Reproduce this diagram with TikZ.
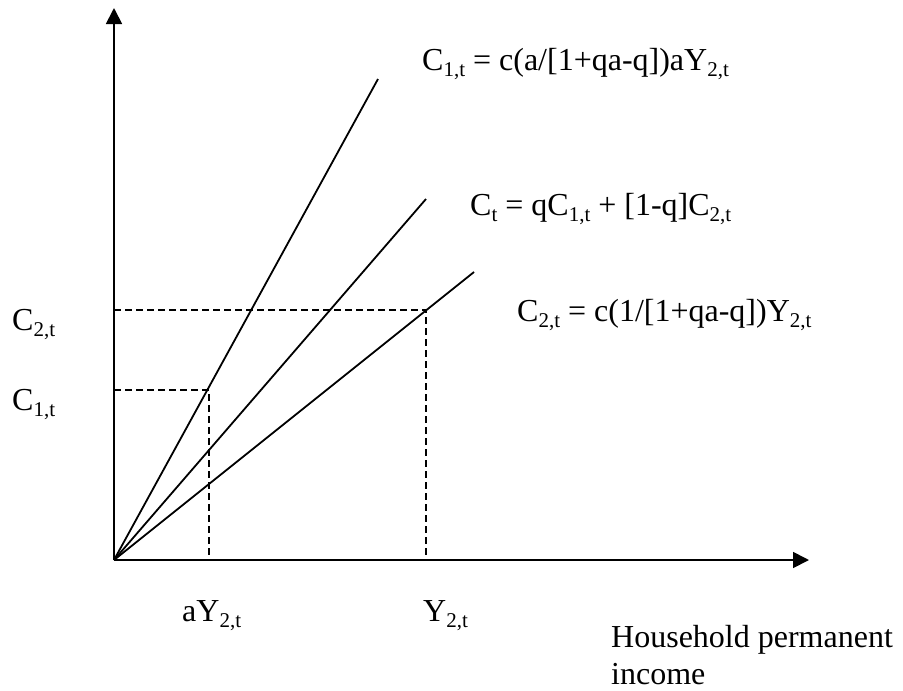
\documentclass[tikz,border=0pt]{standalone}
\usepackage{fontspec}
\setmainfont{Liberation Serif}
\usetikzlibrary{arrows.meta}
\newcommand\sbs[1]{\raisebox{-6pt}{\fontsize{21}{21}\selectfont #1}}
\begin{document}
\begin{tikzpicture}[x=1pt,y=-1pt,
  lbl/.style={anchor=base west, inner sep=0pt, font=\fontsize{32}{38}\selectfont},
  axis/.style={line width=1.8pt, -{Triangle[length=16pt,width=16pt]}},
  ray/.style={line width=1.8pt},
  guide/.style={line width=1.8pt, dash pattern=on 7pt off 4pt}]
\useasboundingbox (0,0) rectangle (903,691);
% axes
\coordinate (O) at (114,560);
\coordinate (ytip) at (114,8);
\coordinate (xtip) at (809,560);
\draw[axis] (O) -- (ytip);
\draw[axis] (O) -- (xtip);
% rays
\coordinate (e1) at (378,79);
\coordinate (e2) at (426,199);
\coordinate (e3) at (474,272);
\draw[ray] (O) -- (e1);
\draw[ray] (O) -- (e2);
\draw[ray] (O) -- (e3);
% dashed guides
\coordinate (yc1) at (114,390);
\coordinate (p1) at (209,390);
\coordinate (xa) at (209,560);
\coordinate (yc2) at (114,310);
\coordinate (p2) at (426,310);
\coordinate (xy) at (426,560);
\draw[guide] (yc1) -- (p1) -- (xa);
\draw[guide] (yc2) -- (p2) -- (xy);
% labels
\node[lbl] (c2) at (12,330) {C\sbs{2,t}};
\node[lbl] (c1) at (12,410) {C\sbs{1,t}};
\node[lbl] (ay) at (182,621) {aY\sbs{2,t}};
\node[lbl] (y2) at (423,621) {Y\sbs{2,t}};
\node[lbl] (eq1) at (422,70) {C\sbs{1,t} = c(a/[1+qa-q])aY\sbs{2,t}};
\node[lbl] (eq2) at (470,215) {C\sbs{t} = qC\sbs{1,t} + [1-q]C\sbs{2,t}};
\node[lbl] (eq3) at (517,321) {C\sbs{2,t} = c(1/[1+qa-q])Y\sbs{2,t}};
\node[lbl] (hh1) at (611,647) {Household permanent};
\node[lbl] (hh2) at (611,684) {income};
\end{tikzpicture}
\end{document}
